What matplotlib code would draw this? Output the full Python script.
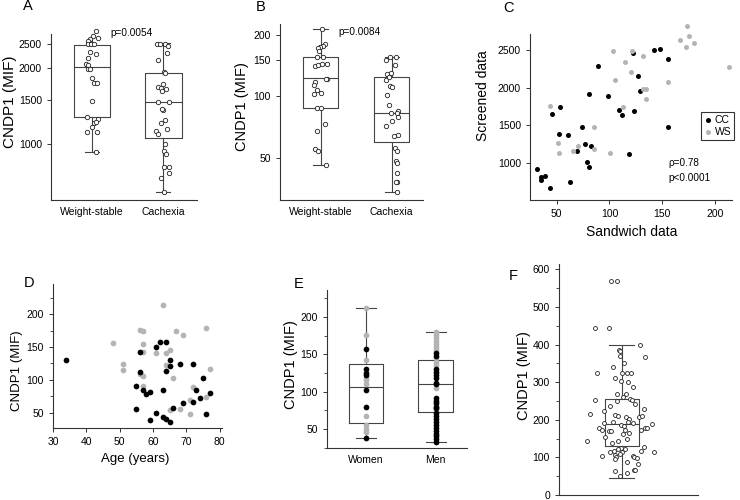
import matplotlib
matplotlib.use("Agg")
import matplotlib.pyplot as plt
from matplotlib.ticker import MultipleLocator, NullLocator

plt.rcParams['font.family'] = ['Liberation Sans', 'DejaVu Sans']
plt.rcParams['axes.linewidth'] = 0.8
plt.rcParams['axes.edgecolor'] = '#333333'
plt.rcParams['xtick.color'] = '#333333'
plt.rcParams['ytick.color'] = '#333333'
plt.rcParams['xtick.labelcolor'] = 'black'
plt.rcParams['ytick.labelcolor'] = 'black'
plt.rcParams['xtick.labelsize'] = 7.5
plt.rcParams['ytick.labelsize'] = 7.5
plt.rcParams['xtick.major.size'] = 3
plt.rcParams['ytick.major.size'] = 3
plt.rcParams['ytick.minor.size'] = 2
plt.rcParams['xtick.major.width'] = 0.7
plt.rcParams['ytick.major.width'] = 0.7
plt.rcParams['ytick.minor.width'] = 0.6

GRAY = '#b4b4b4'
BOXC = '#444444'

# ---- panel A: screened data (log scale)
a_groups = ["Weight-stable", "Cachexia"]
a_ws = [2824, 2700, 2620, 2640, 2580, 2500, 2500, 2490, 2328, 2287, 2205, 2089, 2060, 1996,
        1985, 1840, 1754, 1754, 1480, 1277, 1262, 1213, 1224, 1170, 1121, 1115, 927]
a_ws_jit = [0.061, 0.014, -0.033, 0.079, -0.061, -0.051, -0.014, 0.023, -0.023, 0.061, -0.061,
            -0.079, -0.051, -0.061, -0.023, 0.0, 0.033, 0.070, 0.0, -0.075, 0.084, 0.023, 0.061,
            -0.005, -0.065, 0.065, 0.051]
a_cc = [2510, 2510, 2500, 2466, 2294, 2166, 1942, 1910, 1742, 1690, 1670, 1651, 1631, 1467, 1476,
        1373, 1380, 1250, 1217, 1149, 1132, 1095, 1000, 942, 911, 814, 814, 765, 737, 648]
a_cc_jit = [-0.089, -0.051, 0.019, 0.061, 0.051, -0.079, 0.014, 0.019, -0.005, -0.070, -0.028,
            0.033, -0.019, -0.079, 0.075, -0.005, -0.019, 0.028, -0.033, 0.056, -0.098, -0.079,
            0.023, 0.014, 0.037, 0.014, 0.075, 0.075, -0.033, 0.014]
# med, q1, q3, low, high
a_box = [[2020, 1279, 2480, 930, 2840], [1469, 1059, 1914, 646, 2520]]

# ---- panel B: sandwich data (log scale)
b_ws = [213, 46, 180, 176, 174, 173, 167, 156, 155, 140, 142, 144, 144, 122, 121, 117, 114,
        107, 103, 104, 88, 88, 73, 68, 55, 54]
b_ws_jit = [0.023, 0.075, 0.065, 0.028, -0.009, -0.042, -0.023, 0.037, -0.056, -0.079, -0.033,
            0.019, 0.084, 0.093, 0.075, -0.075, -0.093, -0.056, -0.093, 0.009, -0.047, 0.0,
            0.065, -0.047, -0.075, -0.033]
b_cc = [156, 156, 150, 142, 129, 130, 120, 124, 113, 111, 101, 91, 85, 83, 83, 79, 76, 72, 65,
        64, 56, 54, 48, 47, 42, 38, 38, 34]
b_cc_jit = [-0.019, 0.056, -0.084, 0.047, -0.061, -0.005, -0.075, -0.037, -0.019, 0.009, -0.065,
            -0.037, 0.093, 0.079, -0.009, 0.093, 0.009, -0.084, 0.084, 0.028, 0.042, 0.075,
            0.056, 0.075, 0.070, 0.070, 0.065, 0.070]
b_box = [[122.5, 88, 155, 46, 213], [82.6, 59.6, 124, 33.9, 156]]

# ---- panel C: sandwich vs screened
c_cc_x = [31.1, 34.9, 38.7, 34.9, 44.0, 62.6, 45.6, 53.5, 52.2, 61.0, 73.6, 76.4, 69.5, 79.0,
          80.8, 82.7, 81.1, 89.0, 99.1, 109.4, 111.6, 123.3, 118.6, 127.0, 128.9, 122.0, 142.1,
          148.1, 155.7, 155.3]
c_cc_y = [920, 819, 827, 774, 664, 748, 1646, 1748, 1389, 1376, 1473, 1252, 1155, 1009, 942,
          1226, 1920, 2292, 1894, 1704, 1633, 1686, 1119, 2164, 1956, 2465, 2500, 2518, 2389, 1478]
c_ws_x = [43.4, 51.3, 52.2, 65.4, 70.4, 85.8, 85.8, 100.9, 103.1, 105.7, 115.1, 120.4, 121.1,
          112.6, 131.8, 131.4, 134.3, 134.9, 155.0, 167.0, 173.0, 175.2, 172.0, 179.6, 212.9]
c_ws_y = [1757, 1266, 1128, 1159, 1230, 1478, 1186, 1128, 2491, 2102, 2341, 2212, 2491, 1748,
          2425, 1987, 1987, 1850, 2075, 2633, 2819, 2690, 2540, 2597, 2279]

# ---- panel D: age vs CNDP1
d_cc_age = [34, 56, 56, 55, 57, 58, 59, 55, 59, 61, 62, 64, 61, 63, 63, 64, 65, 64, 65, 65, 66,
            68, 69, 72, 72, 73, 74, 75, 76, 77]
d_cc_val = [130, 143, 112, 91, 84, 78, 81, 55, 38, 150, 157, 157, 49, 85, 43, 40, 35, 113, 130,
            121, 57, 124, 65, 124, 66, 84, 72, 102, 48, 80]
d_ws_age = [48, 51, 51, 56, 57, 57, 57, 56, 57, 57, 63, 61, 64, 65, 64, 66, 65, 67, 69, 68, 71,
            71, 72, 76, 77, 76]
d_ws_val = [156, 124, 115, 176, 174, 155, 143, 108, 106, 90, 214, 141, 141, 146, 123, 103, 54,
            174, 168, 56, 69, 47, 89, 179, 117, 74]

# ---- panel E: sex
e_groups = ["Women", "Men"]
e_w_black = [157, 130, 125, 122, 102, 80, 38]
e_w_gray = [212, 176, 142, 118, 115, 110, 68, 55, 50, 46]
e_m_black = [152, 148, 130, 126, 122, 118, 112, 110, 92, 88, 85, 80, 78, 72, 68, 64, 60, 56,
             52, 48, 44, 40, 36, 33]
e_m_gray = [180, 176, 172, 168, 164, 160, 156, 145, 140, 136, 125, 105, 82, 75]
e_box = [[106, 58, 137, 38, 212.5], [110, 73, 142, 33, 180]]

# ---- panel F: all samples
f_val = [570, 570, 444, 444, 398, 385, 383, 366, 369, 350, 323, 339, 312, 325, 325, 323, 303,
         300, 287, 253, 268, 268, 261, 256, 241, 252, 236, 251, 216, 222, 228, 213, 210, 206,
         203, 208, 210, 192, 194, 185, 183, 193, 191, 188, 179, 179, 178, 172, 169, 171, 174,
         155, 161, 164, 172, 150, 143, 137, 143, 126, 122, 121, 128, 118, 113, 113, 104, 117,
         115, 104, 106, 102, 110, 101, 99, 95, 89, 83, 64, 66, 67, 51, 59]
f_jit = [-0.074, -0.034, -0.192, -0.094, 0.132, -0.017, -0.012, 0.170, -0.012, 0.017, -0.175,
         -0.062, -0.046, 0.038, 0.005, 0.067, -0.002, 0.048, 0.082, -0.194, -0.034, 0.034, 0.007,
         0.062, 0.094, 0.074, -0.084, -0.031, -0.230, -0.129, 0.158, -0.046, -0.026, 0.034,
         0.053, 0.125, 0.144, -0.127, -0.062, -0.002, 0.014, 0.043, 0.084, 0.218, 0.168, 0.180,
         -0.165, -0.144, -0.091, -0.079, 0.026, -0.122, 0.010, 0.053, 0.141, 0.038, -0.247,
         -0.067, -0.026, -0.002, -0.029, 0.022, 0.163, -0.055, -0.082, 0.005, 0.079, 0.139,
         0.230, -0.144, -0.050, -0.041, -0.014, 0.089, 0.113, -0.048, 0.036, 0.118, -0.048,
         0.091, 0.098, -0.010, 0.036]
f_box = [[190, 130, 255, 45, 400]]


def stats(rows):
    return [dict(med=r[0], q1=r[1], q3=r[2], whislo=r[3], whishi=r[4], fliers=[]) for r in rows]


def draw_box(ax, rows, positions, width, capw):
    lp = dict(color=BOXC, linewidth=0.8)
    ax.bxp(stats(rows), positions=positions, widths=width, capwidths=capw, showfliers=False,
           boxprops=lp, whiskerprops=lp, capprops=lp, medianprops=lp, manage_ticks=False)


def open_dots(ax, x, y, s=10):
    ax.scatter(x, y, s=s, facecolors='white', edgecolors='#222222', linewidths=0.6,
               zorder=3, clip_on=False)


def clean(ax):
    ax.spines['top'].set_visible(False)
    ax.spines['right'].set_visible(False)


fig = plt.figure(figsize=(7.4, 5.0), dpi=100)


def px_axes(left, top, right, bottom):
    return fig.add_axes([left / 740, 1 - bottom / 500, (right - left) / 740, (bottom - top) / 500])


# A
ax = px_axes(51, 34, 197, 200)
clean(ax)
draw_box(ax, a_box, [1, 2], 0.51, 0.2)
open_dots(ax, [1 + j for j in a_ws_jit], a_ws)
open_dots(ax, [2 + j for j in a_cc_jit], a_cc)
ax.set_yscale('log')
ax.set_ylim(600, 2740)
ax.set_xlim(0.425, 2.472)
ax.set_yticks([1000, 1500, 2000, 2500], labels=['1000', '1500', '2000', '2500'])
ax.yaxis.set_minor_locator(NullLocator())
ax.set_xticks([1, 2], labels=a_groups)
ax.tick_params(axis='x', length=0, pad=5)
ax.set_ylabel('CNDP1 (MIF)', fontsize=11)
ax.yaxis.set_label_coords(-0.233, 0.59)
ax.text(0.41, 1.006, 'p=0.0054', transform=ax.transAxes, fontsize=7.2, va='center', ha='left')

# B
ax = px_axes(280, 24, 423, 200)
clean(ax)
draw_box(ax, b_box, [1, 2], 0.5, 0.2)
open_dots(ax, [1 + j for j in b_ws_jit], b_ws)
open_dots(ax, [2 + j for j in b_cc_jit], b_cc)
ax.set_yscale('log')
ax.set_ylim(31.1, 226)
ax.set_xlim(0.43, 2.44)
ax.set_yticks([50, 100, 150, 200], labels=['50', '100', '150', '200'])
ax.yaxis.set_minor_locator(NullLocator())
ax.set_xticks([1, 2], labels=a_groups)
ax.tick_params(axis='x', length=0, pad=5)
ax.set_ylabel('CNDP1 (MIF)', fontsize=10.5)
ax.yaxis.set_label_coords(-0.217, 0.53)
ax.text(0.406, 0.955, 'p=0.0084', transform=ax.transAxes, fontsize=7.2, va='center', ha='left')

# C
ax = px_axes(530, 34, 732, 200)
clean(ax)
ax.scatter(c_cc_x, c_cc_y, s=13, color='black', label='CC', zorder=3, linewidths=0)
ax.scatter(c_ws_x, c_ws_y, s=13, color=GRAY, label='WS', zorder=3, linewidths=0, clip_on=False)
ax.set_xlim(24.8, 216)
ax.set_ylim(509, 2716)
ax.set_xticks([50, 100, 150, 200])
ax.set_yticks([1000, 1500, 2000, 2500])
ax.set_xlabel('Sandwich data', fontsize=10)
ax.xaxis.set_label_coords(0.505, -0.15)
ax.set_ylabel('Screened data', fontsize=10)
ax.yaxis.set_label_coords(-0.198, 0.63)
leg = ax.legend(loc='upper left', bbox_to_anchor=(0.847, 0.53), fontsize=7.5, frameon=True,
                fancybox=False, edgecolor='black', borderpad=0.3, handletextpad=0.2,
                handlelength=0.8, borderaxespad=0, labelspacing=0.2)
leg.get_frame().set_linewidth(0.8)
ax.text(0.683, 0.223, 'ρ=0.78', transform=ax.transAxes, fontsize=7.2, va='center', ha='left')
ax.text(0.683, 0.133, 'p<0.0001', transform=ax.transAxes, fontsize=7.2, va='center', ha='left')

# D
ax = px_axes(53, 284, 222, 428)
clean(ax)
ax.scatter(d_ws_age, d_ws_val, s=17, color=GRAY, zorder=3, linewidths=0)
ax.scatter(d_cc_age, d_cc_val, s=17, color='black', zorder=3, linewidths=0)
ax.set_xlim(30, 80.7)
ax.set_ylim(26.4, 246)
ax.set_xticks([30, 40, 50, 60, 70, 80])
ax.set_yticks([50, 100, 150, 200])
ax.yaxis.set_minor_locator(MultipleLocator(25))
ax.set_xlabel('Age (years)', fontsize=9.5)
ax.xaxis.set_label_coords(0.485, -0.174)
ax.set_ylabel('CNDP1 (MIF)', fontsize=9.5)
ax.yaxis.set_label_coords(-0.178, 0.40)

# E
ax = px_axes(327, 290, 467, 448)
clean(ax)
draw_box(ax, e_box, [1, 2], 0.5, 0.29)
ax.scatter([1] * len(e_w_gray), e_w_gray, s=17, color=GRAY, zorder=3, linewidths=0, clip_on=False)
ax.scatter([1] * len(e_w_black), e_w_black, s=17, color='black', zorder=3, linewidths=0)
ax.scatter([2] * len(e_m_gray), e_m_gray, s=17, color=GRAY, zorder=3, linewidths=0)
ax.scatter([2] * len(e_m_black), e_m_black, s=17, color='black', zorder=3, linewidths=0)
ax.set_xlim(0.44, 2.45)
ax.set_ylim(24.6, 236)
ax.set_yticks([50, 100, 150, 200])
ax.yaxis.set_minor_locator(MultipleLocator(25))
ax.set_xticks([1, 2], labels=e_groups)
ax.tick_params(axis='x', length=0, pad=5)
ax.set_ylabel('CNDP1 (MIF)', fontsize=10.5)
ax.yaxis.set_label_coords(-0.207, 0.525)

# F
ax = px_axes(559, 264, 698, 495)
clean(ax)
draw_box(ax, f_box, [0], 0.247, 0.18)
open_dots(ax, f_jit, f_val, s=8)
ax.set_xlim(-0.451, 0.549)
ax.set_ylim(0, 614)
ax.set_yticks([0, 100, 200, 300, 400, 500, 600])
ax.yaxis.set_minor_locator(MultipleLocator(50))
ax.set_xticks([])
ax.set_ylabel('CNDP1 (MIF)', fontsize=10.5)
ax.yaxis.set_label_coords(-0.201, 0.515)

# panel letters
for letter, x, y in [('A', 28, 6), ('B', 261, 7), ('C', 508, 8),
                     ('D', 29, 283), ('E', 299, 284), ('F', 513, 276)]:
    fig.text(x / 740, 1 - y / 500, letter, fontsize=10.5, ha='center', va='center')

fig.savefig('out.png', dpi=100)
